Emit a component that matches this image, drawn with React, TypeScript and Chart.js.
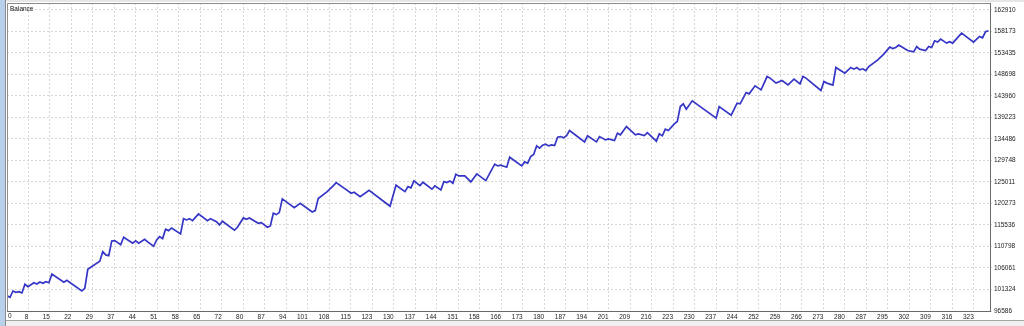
import React, { useEffect, useRef } from "react";
import { Chart, registerables } from "chart.js";

Chart.register(...registerables);

// Trade number (x) and account balance (y) at the turning points of the curve
const tradeIdx = [
  0, 1, 2, 3, 4, 5, 6, 7, 9, 10,
  11, 12, 13, 14, 15, 19, 20, 25, 26, 27,
  31, 32, 33, 34, 35, 36, 38, 39, 42, 43,
  44, 46, 47, 49, 50, 51, 52, 53, 54, 55,
  58, 59, 60, 61, 62, 64, 67, 68, 70, 71,
  72, 76, 77, 79, 80, 81, 84, 85, 87, 88,
  89, 90, 91, 92, 96, 98, 102, 103, 104, 107,
  109, 110, 113, 115, 116, 118, 121, 128, 130, 133,
  134, 135, 136, 138, 139, 142, 143, 145, 146, 147,
  148, 149, 150, 151, 153, 155, 157, 160, 163, 164,
  165, 167, 168, 172, 173, 174, 175, 176, 177, 178,
  179, 180, 181, 182, 183, 184, 185, 186, 187, 188,
  193, 194, 197, 198, 200, 201, 203, 204, 205, 207,
  210, 211, 213, 214, 217, 218, 219, 220, 221, 223,
  224, 225, 226, 227, 229, 237, 238, 242, 244, 245,
  247, 248, 250, 252, 254, 255, 257, 259, 261, 263,
  265, 266, 267, 272, 273, 274, 276, 277, 280, 282,
  283, 284, 285, 286, 287, 288, 291, 293, 295, 296,
  297, 298, 301, 303, 304, 305, 307, 308, 309, 310,
  311, 312, 314, 315, 316, 319, 323, 325, 326, 327,
  328,
];

const balance = [
  99960, 99600, 100990, 100710, 100840, 100560, 102470, 101940, 102820, 102530,
  102980, 102690, 103040, 102820, 104740, 102910, 103350, 100990, 101590, 105770,
  107540, 109650, 108930, 108770, 112010, 112080, 111200, 112830, 111500, 112010,
  111500, 112380, 111790, 110840, 112230, 112960, 112520, 114590, 114280, 114870,
  113550, 116920, 116640, 116920, 116480, 117960, 116480, 116920, 116260, 115540,
  116350, 114370, 115030, 117080, 116790, 117080, 115910, 116040, 115030, 115320,
  118110, 117810, 118250, 121260, 119350, 120320, 118400, 118690, 121330, 122850,
  124130, 124860, 123470, 122520, 122740, 121770, 123180, 119660, 124280, 122870,
  123970, 123690, 125230, 124200, 124940, 123400, 124130, 123250, 125080, 124860,
  125230, 124720, 126710, 126330, 126330, 125010, 126770, 125300, 128910, 128540,
  128690, 128250, 130450, 128540, 129420, 129130, 130580, 131030, 132940, 132440,
  133100, 133320, 132940, 133160, 133010, 134860, 134990, 134710, 135210, 136310,
  133820, 135150, 133820, 134990, 134260, 134480, 134110, 135740, 135370, 137200,
  135370, 135590, 135210, 135870, 133980, 135590, 135150, 136620, 136310, 137790,
  138300, 141600, 142200, 141030, 142860, 139050, 141600, 139710, 142350, 142200,
  144690, 144400, 146160, 145280, 148210, 147860, 146760, 147330, 146380, 147640,
  146600, 148210, 147860, 145130, 147110, 146760, 146320, 150200, 148960, 150200,
  149840, 150200, 149690, 149910, 149530, 150420, 151890, 153150, 154690, 154380,
  154600, 155130, 153940, 153650, 154820, 154250, 153940, 154820, 154600, 156080,
  155790, 156450, 155570, 155860, 155570, 157770, 155790, 157030, 156740, 158060,
  158280,
];

const xTickLabels = [
  0, 8, 15, 22, 29, 37, 44, 51, 58, 65, 72, 80, 87, 94, 101, 108, 115, 123,
  130, 137, 144, 151, 158, 166, 173, 180, 187, 194, 201, 209, 216, 223, 230,
  237, 244, 252, 259, 266, 273, 280, 287, 295, 302, 309, 316, 323,
];

const yTickLabels = [
  96586, 101324, 106061, 110798, 115536, 120273, 125011, 129748, 134486,
  139223, 143960, 148698, 153435, 158173, 162910,
];

const X_GRID_STEP = 7.18;
const X_MAX = 328.5;
const Y_MIN = 96586;
const Y_MAX = 164400;

const FONT = "'Liberation Sans', Arial, sans-serif";

const framePlugin = {
  id: "frame",
  afterDraw(chart: any) {
    const { ctx, chartArea } = chart;
    ctx.save();
    ctx.strokeStyle = "#8c8c8c";
    ctx.lineWidth = 1;
    ctx.beginPath();
    ctx.moveTo(Math.round(chartArea.left) + 0.5, Math.round(chartArea.bottom));
    ctx.lineTo(Math.round(chartArea.left) + 0.5, Math.round(chartArea.top) + 0.5);
    ctx.lineTo(Math.round(chartArea.right), Math.round(chartArea.top) + 0.5);
    ctx.stroke();
    // first x label sits inside the frame, left-aligned
    ctx.fillStyle = "#222";
    ctx.font = `6.5px ${FONT}`;
    ctx.textAlign = "left";
    ctx.textBaseline = "middle";
    ctx.fillText(String(xTickLabels[0]), chartArea.left + 1, chartArea.bottom + 5.5);
    ctx.restore();
  },
};

export default function App() {
  const canvasRef = useRef<HTMLCanvasElement | null>(null);

  useEffect(() => {
    if (!canvasRef.current) return;
    const points = tradeIdx.map((x, i) => ({ x, y: balance[i] }));
    const chart = new Chart(canvasRef.current, {
      type: "line",
      data: {
        datasets: [
          {
            label: "Balance",
            data: points,
            borderColor: "#3535c6",
            borderWidth: 1.7,
            pointRadius: 0,
            tension: 0,
            fill: false,
          },
        ],
      },
      plugins: [framePlugin],
      options: {
        animation: false,
        responsive: false,
        devicePixelRatio: 1,
        layout: { padding: { left: 7, top: 3, right: 0, bottom: 0 } },
        plugins: {
          legend: { display: false },
          tooltip: { enabled: false },
          title: { display: false },
        },
        scales: {
          x: {
            type: "linear",
            min: 0,
            max: X_MAX,
            afterBuildTicks: (scale: any) => {
              scale.ticks = xTickLabels.map((_, k) => ({ value: k * X_GRID_STEP }));
            },
            afterFit: (scale: any) => {
              scale.height = 10;
              scale.paddingLeft = 0;
              scale.paddingRight = 0;
            },
            ticks: {
              autoSkip: false,
              maxRotation: 0,
              minRotation: 0,
              align: "end",
              padding: 1,
              color: "#222",
              font: { family: FONT, size: 6.5 },
              callback: (_v: any, i: number) => (i === 0 ? "" : String(xTickLabels[i])),
            },
            grid: {
              color: "#d6d6d6",
              lineWidth: 1,
              tickLength: 1,
            },
            border: { display: true, color: "#6a6a6a", width: 1, dash: [2, 2] },
          },
          y: {
            type: "linear",
            position: "right",
            min: Y_MIN,
            max: Y_MAX,
            afterBuildTicks: (scale: any) => {
              scale.ticks = yTickLabels.map((v) => ({ value: v }));
            },
            afterFit: (scale: any) => {
              scale.width = 34;
              scale.paddingTop = 0;
              scale.paddingBottom = 0;
            },
            ticks: {
              padding: 2,
              color: "#222",
              font: { family: FONT, size: 6.5 },
              callback: (_v: any, i: number) => String(yTickLabels[i]),
            },
            grid: {
              color: "#d6d6d6",
              lineWidth: 1,
              tickLength: 2,
            },
            border: { display: true, color: "#6a6a6a", width: 1, dash: [2, 2] },
          },
        },
      },
    } as any);
    return () => chart.destroy();
  }, []);

  return (
    <div
      style={{
        position: "fixed",
        left: 0,
        top: 0,
        width: 1024,
        height: 326,
        background: "#ffffff",
        overflow: "hidden",
      }}
    >
      <div style={{ position: "absolute", left: 0, top: 0, width: 1024, height: 2, background: "#e6e6e6" }} />
      <canvas
        ref={canvasRef}
        width={1024}
        height={321}
        style={{ position: "absolute", left: 0, top: 0, width: 1024, height: 321 }}
      />
      <div
        style={{
          position: "absolute",
          left: 0,
          top: 0,
          width: 5,
          height: 326,
          background: "#b8d0ea",
          borderRight: "1px solid #8a8a8a",
        }}
      />
      <div
        style={{
          position: "absolute",
          left: 10,
          top: 5,
          fontFamily: FONT,
          fontSize: "6.5px",
          lineHeight: "7px",
          color: "#111",
        }}
      >
        Balance
      </div>
      <div
        style={{
          position: "absolute",
          left: 6,
          top: 320,
          width: 1018,
          height: 6,
          background: "#f0f0f0",
          borderTop: "1px solid #a6a6a6",
        }}
      />
    </div>
  );
}
